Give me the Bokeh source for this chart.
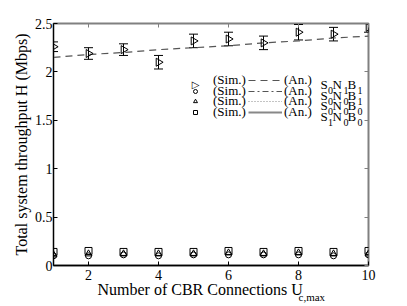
import numpy as np
from bokeh.plotting import figure
from bokeh.models import (ColumnDataSource, Whisker, TeeHead, Legend, LegendItem,
                          Label, LinearAxis, FixedTicker, Range1d, CustomJSTickFormatter, Title)
from bokeh.embed import file_html
from bokeh.resources import INLINE

# ---- data ----
x_vals = [1, 2, 3, 4, 5, 6, 7, 8, 9, 10]
sim_s0n1b1 = [2.26, 2.19, 2.23, 2.10, 2.32, 2.34, 2.30, 2.41, 2.39, 2.46]
err_s0n1b1 = [0.05, 0.06, 0.06, 0.07, 0.07, 0.07, 0.07, 0.08, 0.07, 0.05]
an_s0n1b1 = [2.15, 2.18, 2.20, 2.23, 2.25, 2.27, 2.30, 2.32, 2.35, 2.37]
sim_s0n0b1 = [0.10, 0.10, 0.11, 0.10, 0.11, 0.11, 0.11, 0.11, 0.10, 0.11]
sim_s0n0b0 = [0.11, 0.12, 0.12, 0.12, 0.12, 0.13, 0.12, 0.13, 0.12, 0.12]
sim_s1n0b0 = [0.14, 0.15, 0.14, 0.14, 0.14, 0.15, 0.14, 0.15, 0.14, 0.15]
legend_names = [("0", "1", "1"), ("0", "0", "1"), ("0", "0", "0"), ("1", "0", "0")]
x_ticks = [2, 4, 6, 8, 10]
y_ticks = [0, 0.5, 1, 1.5, 2, 2.5]
y_tick_labels = ["0", "0.5", "1", "1.5", "2", "2.5"]

FONT = "Liberation Serif"

p = figure(width=407, height=306, output_backend="svg", toolbar_location=None,
           x_range=Range1d(1, 10), y_range=Range1d(0, 2.5),
           min_border_left=53, min_border_right=39, min_border_top=23, min_border_bottom=41)
p.background_fill_color = "white"
p.border_fill_color = "white"
p.grid.visible = False
p.outline_line_color = "#808080"
p.outline_line_width = 2

# axes
p.xaxis.ticker = FixedTicker(ticks=x_ticks)
p.yaxis.ticker = FixedTicker(ticks=y_ticks)
p.yaxis.major_label_overrides = {t: l for t, l in zip(y_ticks, y_tick_labels)}
for ax in (p.xaxis[0], p.yaxis[0]):
    ax.major_tick_in = 4
    ax.major_tick_out = 0
    ax.minor_tick_line_color = None
    ax.major_label_text_font = FONT
    ax.major_label_text_font_size = "14px"
    ax.major_label_text_color = "black"
    ax.axis_line_color = "black"
    ax.major_tick_line_color = "black"
p.xaxis.major_label_standoff = 4
p.yaxis.major_label_standoff = 1
p.xaxis.axis_line_width = 1.5
p.yaxis.axis_label = "Total system throughput H (Mbps)"
p.yaxis.axis_label_text_font = FONT
p.yaxis.axis_label_text_font_size = "16px"
p.yaxis.axis_label_text_font_style = "normal"
p.yaxis.axis_label_text_color = "black"
p.yaxis.axis_label_standoff = 2

for loc in ("above", "right"):
    ax = LinearAxis(ticker=FixedTicker(ticks=x_ticks if loc == "above" else y_ticks),
                    major_tick_in=4, major_tick_out=0, minor_tick_line_color=None,
                    formatter=CustomJSTickFormatter(code="return ''"),
                    major_label_standoff=0, axis_line_color=None,
                    major_tick_line_color="#808080")
    p.add_layout(ax, loc)

# x axis label with subscript
p.add_layout(Title(text="Number of CBR Connections U", align="left", offset=44,
                   text_font=FONT, text_font_size="16px", text_font_style="normal",
                   text_color="black", standoff=-8), "below")
p.add_layout(Title(text="c,max", align="left", offset=245,
                   text_font=FONT, text_font_size="11px", text_font_style="normal",
                   text_color="black", standoff=-10), "below")

# ---- series ----
src = ColumnDataSource(dict(x=x_vals, y=sim_s0n1b1, an=an_s0n1b1,
                            up=[v + e for v, e in zip(sim_s0n1b1, err_s0n1b1)],
                            lo=[v - e for v, e in zip(sim_s0n1b1, err_s0n1b1)],
                            a=sim_s0n0b1, b=sim_s0n0b0, c=sim_s1n0b0))

l_an1 = p.line("x", "an", source=src, line_color="#555555", line_width=1.2, line_dash="7 5")
p.add_layout(Whisker(source=src, base="x", upper="up", lower="lo", line_color="black",
                     upper_head=TeeHead(size=9, line_color="black"),
                     lower_head=TeeHead(size=9, line_color="black")))
r_tri = p.scatter("x", "y", source=src, marker="triangle", angle=-np.pi / 2, size=8,
                  fill_color=None, line_color="black")
r_circ = p.scatter("x", "a", source=src, marker="circle", size=6,
                   fill_color=None, line_color="black")
r_up = p.scatter("x", "b", source=src, marker="triangle", size=7,
                 fill_color=None, line_color="black")
r_sq = p.scatter("x", "c", source=src, marker="square", size=7,
                 fill_color=None, line_color="black")

# legend-only renderers (analytic curves of the low series are not visible in the plot)
nan_src = ColumnDataSource(dict(x=[float("nan")], y=[float("nan")]))
r_blank = p.scatter("x", "y", source=nan_src, marker="square", size=7,
                    fill_color=None, line_color=None)
l_an2 = p.line("x", "y", source=nan_src, line_color="#555555", line_width=1, line_dash="6 3 2 3")
l_an3 = p.line("x", "y", source=nan_src, line_color="#888888", line_width=1, line_dash="1 2")
l_an4 = p.line("x", "y", source=nan_src, line_color="#888888", line_width=2)

FRAME_BOTTOM = 265
row_page_y = [84, 94.5, 105, 115.5]
ITEM_H = 8

def mk_legend(label, r, xloc, row_y, gw, standoff):
    lg = Legend(items=[LegendItem(label=label, renderers=[r])],
                location=(xloc, FRAME_BOTTOM - row_y - ITEM_H / 2),
                background_fill_alpha=0, border_line_alpha=0,
                padding=0, margin=0, spacing=0, glyph_height=10, label_height=10,
                glyph_width=gw, label_standoff=standoff,
                label_text_font=FONT, label_text_font_size="13px", label_text_color="black")
    p.add_layout(lg, "center")

sim_r = [r_blank, r_circ, r_up, r_sq]
an_r = [l_an1, l_an2, l_an3, l_an4]
for i, ry in enumerate(row_page_y):
    mk_legend("(Sim.)", sim_r[i], 135, ry, 14, 11)
    mk_legend("(An.)", an_r[i], 195, ry, 34, 2)

# right-pointing triangle symbol for first legend row (legend glyphs ignore angle)
p.add_layout(Label(x=142, y=FRAME_BOTTOM - row_page_y[0], x_units="screen", y_units="screen",
                   text="\u25B7", text_font="DejaVu Sans", text_font_size="10px",
                   text_align="center", text_baseline="middle", text_color="black"))

for ry, (s, n, b) in zip(row_page_y, legend_names):
    fy = FRAME_BOTTOM - ry
    for xx, t in ((267, "S"), (279, "N"), (294, "B")):
        p.add_layout(Label(x=xx, y=fy, x_units="screen", y_units="screen", text=t,
                           text_font=FONT, text_font_size="13px", text_baseline="middle",
                           text_color="black"))
    for xx, t in ((274.5, s), (290, n), (304, b)):
        p.add_layout(Label(x=xx, y=fy - 6, x_units="screen", y_units="screen", text=t,
                           text_font=FONT, text_font_size="10px", text_baseline="middle",
                           text_color="black"))

open("out.html", "w").write(file_html(p, INLINE))
